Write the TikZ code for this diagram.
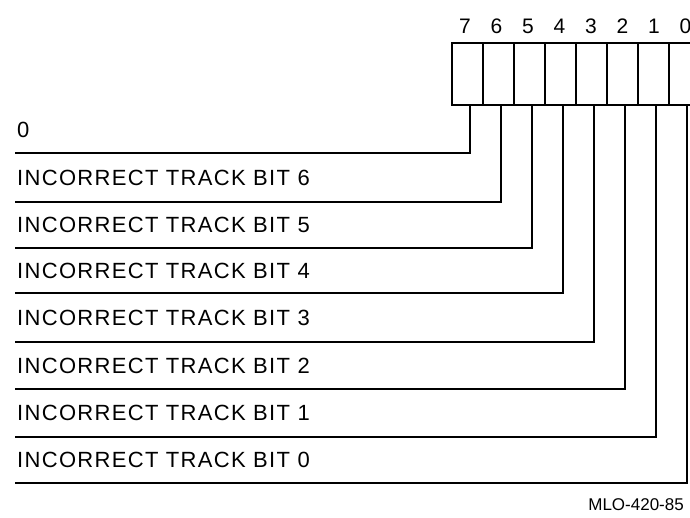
\documentclass[tikz,border=0pt]{standalone}
\usepackage{fontspec}
\setmainfont{Liberation Sans}
\newfontfamily\lblfont[LetterSpace=6]{Liberation Sans}
\begin{document}
\begin{tikzpicture}[x=1pt,y=-1pt,
  cell/.style={draw,line width=2pt,minimum width=31pt,minimum height=62pt,inner sep=0pt,anchor=north west},
  bitnum/.style={font=\lblfont\fontsize{21}{24}\selectfont,inner sep=0pt},
  lbl/.style={font=\lblfont\fontsize{22}{25}\selectfont,anchor=west,inner sep=0pt},
  wire/.style={line width=2pt}]
\useasboundingbox (0,0) rectangle (690,518);
% register cells
\foreach \b [count=\k from 0] in {7,6,5,4,3,2,1,0}{
  \node[cell] (c\b) at (451+31*\k,42) {};
  \node[bitnum] (n\b) at (465+31.5*\k,26) {\b};
}
% line ends
\foreach \b/\y in {7/153,6/202,5/248,4/293,3/342,2/389,1/437,0/483}{
  \coordinate (e\b) at (15,\y);
  \draw[wire] ([xshift=2pt]c\b.south) |- (e\b);
}
% labels
\node[lbl] (l7) at (17,130) {0};
\node[lbl] (l6) at (17,178) {INCORRECT TRACK BIT 6};
\node[lbl] (l5) at (17,225) {INCORRECT TRACK BIT 5};
\node[lbl] (l4) at (17,271) {INCORRECT TRACK BIT 4};
\node[lbl] (l3) at (17,318) {INCORRECT TRACK BIT 3};
\node[lbl] (l2) at (17,366) {INCORRECT TRACK BIT 2};
\node[lbl] (l1) at (17,413) {INCORRECT TRACK BIT 1};
\node[lbl] (l0) at (17,460) {INCORRECT TRACK BIT 0};
\node[font=\fontsize{17}{19}\selectfont,anchor=east,inner sep=0pt] (tag) at (684,505) {MLO-420-85};
\end{tikzpicture}
\end{document}
